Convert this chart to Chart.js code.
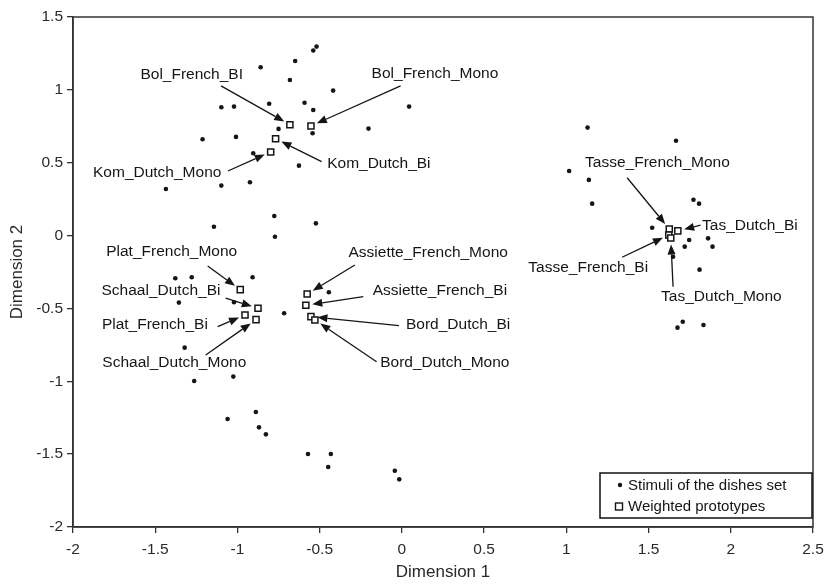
<!DOCTYPE html>
<html>
<head>
<meta charset="utf-8">
<script src="https://cdn.jsdelivr.net/npm/chart.js@4.4.1/dist/chart.umd.min.js"></script>
<style>
  html, body { margin: 0; padding: 0; background: #fff; }
  #wrap { width: 826px; height: 584px; }
</style>
</head>
<body>
<div id="wrap"><canvas id="chart" width="826" height="584"></canvas></div>
<script>
// stimuli of the dishes set (Dimension 1, Dimension 2)
const stimX = [
  -0.519, -0.539, -0.649, -0.859, -0.681, -0.418, -1.098, -1.021, -0.807, -0.592,
  -0.539, -0.543, -0.750, -1.212, -1.009, -0.904, -0.626, -1.435, -1.098, -0.924,
  0.044, -0.203, -0.776, -0.523, -1.143, -0.772, -1.378, -1.278, -0.908, -0.444,
  -1.356, -1.021, -0.716, -1.321, -1.263, -1.025, -1.060, -0.888, -0.869, -0.827,
  -0.571, -0.432, -0.448, -0.043, -0.016,
  1.129, 1.667, 1.017, 1.137, 1.157, 1.773, 1.807, 1.522, 1.747, 1.862,
  1.889, 1.720, 1.649, 1.810, 1.708, 1.676, 1.834
];
const stimY = [
  1.297, 1.270, 1.198, 1.155, 1.068, 0.995, 0.881, 0.885, 0.905, 0.912,
  0.862, 0.702, 0.732, 0.661, 0.677, 0.565, 0.480, 0.320, 0.343, 0.366,
  0.885, 0.734, 0.134, 0.084, 0.061, -0.008, -0.293, -0.286, -0.286, -0.389,
  -0.460, -0.458, -0.533, -0.769, -0.998, -0.968, -1.259, -1.211, -1.316, -1.364,
  -1.499, -1.499, -1.588, -1.614, -1.673,
  0.741, 0.651, 0.443, 0.382, 0.219, 0.246, 0.219, 0.054, -0.030, -0.019,
  -0.076, -0.076, -0.145, -0.234, -0.591, -0.632, -0.614
];

// weighted prototypes
const protoNames = [
  'Bol_French_BI', 'Bol_French_Mono', 'Kom_Dutch_Bi', 'Kom_Dutch_Mono',
  'Plat_French_Mono', 'Schaal_Dutch_Bi', 'Plat_French_Bi', 'Schaal_Dutch_Mono',
  'Assiette_French_Mono', 'Assiette_French_Bi', 'Bord_Dutch_Bi', 'Bord_Dutch_Mono',
  'Tasse_French_Mono', 'Tasse_French_Bi', 'Tas_Dutch_Bi', 'Tas_Dutch_Mono'
];
const protoX = [
  -0.681, -0.553, -0.768, -0.798,
  -0.983, -0.875, -0.954, -0.887,
  -0.576, -0.584, -0.553, -0.529,
  1.626, 1.623, 1.678, 1.635
];
const protoY = [
  0.761, 0.752, 0.665, 0.574,
  -0.371, -0.499, -0.545, -0.577,
  -0.401, -0.478, -0.556, -0.579,
  0.045, 0.004, 0.032, -0.017
];

const xTicks = [-2, -1.5, -1, -0.5, 0, 0.5, 1, 1.5, 2, 2.5];
const yTicks = [-2, -1.5, -1, -0.5, 0, 0.5, 1, 1.5];

const legendLabels = ['Stimuli of the dishes set', 'Weighted prototypes'];

// where each prototype's name sits and where its arrow starts (data units)
const callouts = [
  { label: [-1.278, 1.102], from: [-1.100, 1.027] },
  { label: [0.201, 1.109], from: [-0.008, 1.027] },
  { label: [-0.140, 0.496], from: [-0.488, 0.507] },
  { label: [-1.488, 0.432], from: [-1.058, 0.443] },
  { label: [-1.400, -0.111], from: [-1.181, -0.209] },
  { label: [-1.465, -0.378], from: [-1.072, -0.430] },
  { label: [-1.502, -0.614], from: [-1.120, -0.625] },
  { label: [-1.384, -0.876], from: [-1.193, -0.819] },
  { label: [0.160, -0.117], from: [-0.286, -0.202] },
  { label: [0.231, -0.378], from: [-0.235, -0.419] },
  { label: [0.342, -0.614], from: [-0.018, -0.618] },
  { label: [0.261, -0.876], from: [-0.154, -0.866] },
  { label: [1.554, 0.500], from: [1.370, 0.397] },
  { label: [1.133, -0.220], from: [1.339, -0.149] },
  { label: [2.116, 0.066], from: [1.816, 0.071] },
  { label: [1.943, -0.419], from: [1.649, -0.351] }
];

const FONT = '"Liberation Sans", Arial, sans-serif';
const INK = '#151515';
const AXIS = '#333';

const stimuli = stimX.map((v, i) => ({ x: v, y: stimY[i] }));
const prototypes = protoX.map((v, i) => ({ x: v, y: protoY[i] }));

const calloutPlugin = {
  id: 'callouts',
  afterDatasetsDraw(chart) {
    const { ctx, scales: { x, y } } = chart;
    ctx.save();
    ctx.strokeStyle = INK;
    ctx.fillStyle = INK;
    ctx.lineWidth = 1.3;
    ctx.font = '15.5px ' + FONT;
    ctx.textAlign = 'center';
    ctx.textBaseline = 'middle';
    callouts.forEach((c, i) => {
      const tx = x.getPixelForValue(protoX[i]);
      const ty = y.getPixelForValue(protoY[i]);
      const sx = x.getPixelForValue(c.from[0]);
      const sy = y.getPixelForValue(c.from[1]);
      const dx = tx - sx, dy = ty - sy;
      const len = Math.hypot(dx, dy);
      const ux = dx / len, uy = dy / len;
      const ex = tx - ux * 6.5, ey = ty - uy * 6.5;
      const head = 10, half = 4;
      const bx = ex - ux * head, by = ey - uy * head;
      ctx.beginPath();
      ctx.moveTo(sx, sy);
      ctx.lineTo(bx, by);
      ctx.stroke();
      ctx.beginPath();
      ctx.moveTo(ex, ey);
      ctx.lineTo(bx - uy * half, by + ux * half);
      ctx.lineTo(bx + uy * half, by - ux * half);
      ctx.closePath();
      ctx.fill();
      ctx.fillText(protoNames[i], x.getPixelForValue(c.label[0]), y.getPixelForValue(c.label[1]));
    });
    ctx.restore();
  },
  afterDraw(chart) {
    const { ctx, chartArea: a } = chart;
    ctx.save();
    // frame around plot
    ctx.strokeStyle = AXIS;
    ctx.lineWidth = 1.5;
    ctx.strokeRect(a.left, a.top, a.right - a.left, a.bottom - a.top);

    // legend box in the lower right corner
    const w = 212, h = 45;
    const lx = a.right - 1 - w, ly = a.bottom - 9 - h;
    ctx.lineWidth = 1.5;
    ctx.strokeStyle = '#111';
    ctx.strokeRect(lx, ly, w, h);
    ctx.font = '15px ' + FONT;
    ctx.textAlign = 'left';
    ctx.textBaseline = 'middle';
    ctx.fillStyle = INK;
    ctx.beginPath();
    ctx.arc(lx + 20, ly + 12, 2.2, 0, Math.PI * 2);
    ctx.fill();
    ctx.fillText(legendLabels[0], lx + 28, ly + 12.5);
    ctx.fillStyle = '#fff';
    ctx.fillRect(lx + 15.5, ly + 30, 7, 7);
    ctx.strokeStyle = INK;
    ctx.lineWidth = 1.4;
    ctx.strokeRect(lx + 15.5, ly + 30, 7, 7);
    ctx.fillStyle = INK;
    ctx.fillText(legendLabels[1], lx + 28, ly + 33.5);
    ctx.restore();
  }
};

const tickFmt = v => String(Math.round(v * 10) / 10);

new Chart(document.getElementById('chart'), {
  type: 'scatter',
  data: {
    datasets: [
      {
        label: legendLabels[1],
        data: prototypes,
        order: 0,
        pointStyle: 'rect',
        pointRadius: 4.3,
        backgroundColor: '#fff',
        borderColor: INK,
        borderWidth: 1.5
      },
      {
        label: legendLabels[0],
        data: stimuli,
        order: 1,
        pointStyle: 'circle',
        pointRadius: 2.3,
        backgroundColor: INK,
        borderWidth: 0
      }
    ]
  },
  options: {
    responsive: false,
    animation: false,
    layout: { padding: { top: 17, right: 13, left: 0, bottom: 0 } },
    plugins: {
      legend: { display: false },
      tooltip: { enabled: false }
    },
    scales: {
      x: {
        type: 'linear',
        min: -2,
        max: 2.5,
        afterBuildTicks: s => { s.ticks = xTicks.map(v => ({ value: v })); },
        afterFit: s => { s.height = 57; s.paddingLeft = 0; s.paddingRight = 0; },
        border: { display: true, color: AXIS, width: 1.5 },
        grid: { drawOnChartArea: false, drawTicks: true, tickLength: 6, color: AXIS, lineWidth: 1.3 },
        ticks: { color: '#2a2a2a', padding: 7, font: { family: FONT, size: 15.5 }, callback: tickFmt, maxRotation: 0 },
        title: { display: true, text: 'Dimension 1', color: '#2a2a2a', padding: { top: 0, bottom: 1 }, font: { family: FONT, size: 17 } }
      },
      y: {
        type: 'linear',
        min: -2,
        max: 1.5,
        afterBuildTicks: s => { s.ticks = yTicks.map(v => ({ value: v })); },
        afterFit: s => { s.width = 73; s.paddingTop = 0; s.paddingBottom = 0; },
        border: { display: true, color: AXIS, width: 1.5 },
        grid: { drawOnChartArea: false, drawTicks: true, tickLength: 6, color: AXIS, lineWidth: 1.3 },
        ticks: { color: '#2a2a2a', padding: 4, font: { family: FONT, size: 15.5 }, callback: tickFmt },
        title: { display: true, text: 'Dimension 2', color: '#2a2a2a', padding: { top: 7, bottom: 0 }, font: { family: FONT, size: 17 } }
      }
    }
  },
  plugins: [calloutPlugin]
});
</script>
</body>
</html>
